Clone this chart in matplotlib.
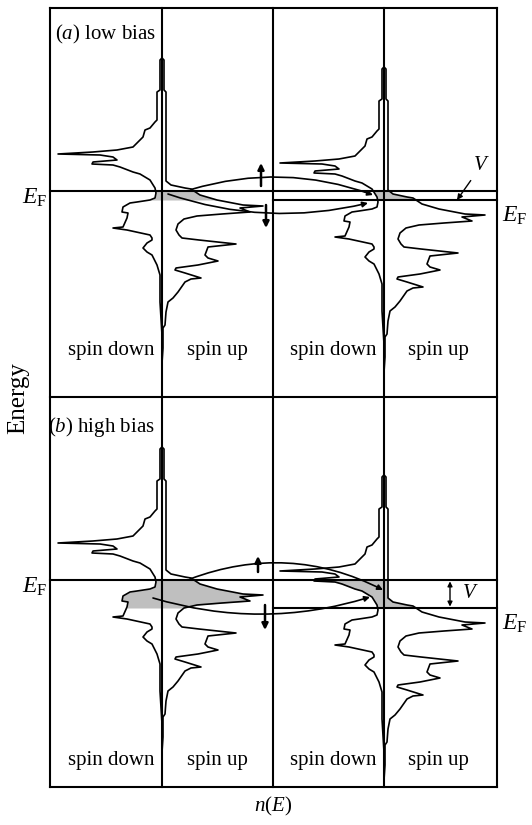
import numpy as np
import matplotlib
matplotlib.use("Agg")
import matplotlib.pyplot as plt
from matplotlib.patches import FancyArrowPatch

plt.rcParams.update({"font.family": "Liberation Serif", "mathtext.fontset": "custom",
                     "mathtext.rm": "Liberation Serif", "mathtext.it": "Liberation Serif:italic"})

# density of states: n = distance from the axis, e = energy above E_F (px)
DOWN_N = [0, 2, 2, 5, 5, 7, 12, 17, 19, 22, 29, 45, 69, 104, 62, 49, 45, 69, 70, 49, 42, 29, 22, 12, 7,
          6, 7, 12, 25, 32, 39, 40, 34, 35, 39, 49, 35, 12, 10, 10, 15, 19, 15, 10, 5, 2, 2, 0, 0]
DOWN_E = [133, 131, 101, 99, 71, 69, 63, 61, 54, 51, 44, 41, 39, 37, 36, 34, 31, 29, 27, 26, 24, 19, 17, 11, 3,
          -2, -7, -9, -11, -12, -16, -21, -22, -27, -36, -37, -39, -44, -47, -49, -52, -57, -61, -64, -74, -84, -111, -144, -172]
UP_N = [0, 2, 2, 4, 4, 9, 23, 29, 38, 55, 81, 101, 78, 88, 60, 35, 22, 16, 14, 17, 20, 37, 74, 46, 43, 46, 56,
        46, 36, 14, 13, 23, 39, 29, 23, 16, 11, 6, 4, 3, 1, 1, 0]
UP_E = [133, 131, 101, 99, 10, 6, 3, 2, -4, -9, -14, -15, -17, -21, -23, -25, -28, -33, -39, -44, -47, -49, -53, -56, -64, -67, -70,
        -72, -74, -77, -79, -82, -87, -88, -91, -101, -107, -111, -121, -134, -137, -157, -172]

PANEL_LABELS = [r"($a$) low bias", r"($b$) high bias"]
SPIN_LABELS = ["spin down", "spin up", "spin down", "spin up"]
EF_LEFT = [191, 580]   # Fermi level of the left electrode, px from top
BIAS = [9, 28]         # V in px

# layout (px)
X_LINES = [50, 162, 273, 384, 497]
Y_LINES = [8, 397, 787]
AXES_X = [162, 384]
LABEL_X = [111, 217, 333, 438]
LABEL_Y = [355, 765]
TITLE_XY = [(55, 39), (48, 432)]
# arcs: (start dx from left axis, start dy, end dx from right axis, end dy, rad), dy from left E_F
ARCS_UP = [(29, -1.5, -11, 4, -0.165), (28, -1, -1, 10, -0.22)]
ARCS_DN = [(6, 3, -16, 12, 0.145), (-9, 18, -14, 17, 0.152)]
SPIN_ARROWS = [((261, -5, -28), (266, 14, 37)), ((258, -8, -24), (265, 25, 50))]

fig = plt.figure(figsize=(5.32, 8.25), dpi=100)
ax = fig.add_axes([0, 0, 1, 1])
ax.set_xlim(0, 532); ax.set_ylim(825, 0); ax.axis("off")

dn_n, dn_e = np.array(DOWN_N), np.array(DOWN_E)
up_n, up_e = np.array(UP_N), np.array(UP_E)

def electrode(xa, yf, lo, hi):
    e = np.linspace(lo, hi, 80)
    nd = np.interp(e, dn_e[::-1], dn_n[::-1])
    nu = np.interp(e, up_e[::-1], up_n[::-1])
    ax.fill_betweenx(yf - e, xa - nd, xa + nu, color="#bfbfbf", lw=0, zorder=1)
    ax.plot(xa - dn_n, yf - dn_e, color="k", lw=1.2, zorder=3)
    ax.plot(xa + up_n, yf - up_e, color="k", lw=1.2, zorder=3)

for x in X_LINES:
    ax.plot([x, x], [Y_LINES[0], Y_LINES[-1]], color="k", lw=1.5, solid_capstyle="projecting", zorder=2)
for y in Y_LINES:
    ax.plot([X_LINES[0], X_LINES[-1]], [y, y], color="k", lw=1.5, solid_capstyle="projecting", zorder=2)

for p in range(2):
    efl, v = EF_LEFT[p], BIAS[p]
    efr = efl + v
    ax.plot([X_LINES[0], X_LINES[-1]], [efl, efl], color="k", lw=1.5, zorder=2)
    ax.plot([X_LINES[2], X_LINES[-1]], [efr, efr], color="k", lw=1.5, zorder=2)
    electrode(AXES_X[0], efl, -v, 0)
    electrode(AXES_X[1], efr, 0, v)

    for (sx, sy, ex, ey, rad) in (ARCS_UP[p], ARCS_DN[p]):
        ax.add_patch(FancyArrowPatch((AXES_X[0] + sx, efl + sy), (AXES_X[1] + ex, efl + ey),
                                     connectionstyle=f"arc3,rad={rad}", arrowstyle="-|>",
                                     mutation_scale=8, lw=1.2, color="k", shrinkA=0, shrinkB=0, zorder=4))
    (ux, u0, u1), (dx, d0, d1) = SPIN_ARROWS[p]
    ax.annotate("", xy=(ux, efl + u1), xytext=(ux, efl + u0),
                arrowprops=dict(arrowstyle="-|>", lw=1.8, mutation_scale=9, color="k", shrinkA=0, shrinkB=0))
    ax.annotate("", xy=(dx, efl + d1), xytext=(dx, efl + d0),
                arrowprops=dict(arrowstyle="-|>", lw=1.8, mutation_scale=9, color="k", shrinkA=0, shrinkB=0))

    ax.text(22, efl + 7, r"$E_{\rm F}$", fontsize=17, ha="left", va="center")
    ax.text(502, efr + 16, r"$E_{\rm F}$", fontsize=17, ha="left", va="center")
    ax.text(*TITLE_XY[p], PANEL_LABELS[p], fontsize=15, ha="left", va="baseline")
    for lx, s in zip(LABEL_X, SPIN_LABELS):
        ax.text(lx, LABEL_Y[p], s, fontsize=15, ha="center", va="baseline")

# bias markers
ax.annotate(r"$V$", xy=(457, EF_LEFT[0] + BIAS[0]), xytext=(481, 166), fontsize=15, ha="center", va="center",
            arrowprops=dict(arrowstyle="-|>", lw=1.0, mutation_scale=8, color="k", shrinkA=2, shrinkB=0))
ax.annotate("", xy=(450, EF_LEFT[1]), xytext=(450, EF_LEFT[1] + BIAS[1]),
            arrowprops=dict(arrowstyle="<|-|>", lw=1.0, mutation_scale=7, color="k", shrinkA=1, shrinkB=1))
ax.text(470, EF_LEFT[1] + BIAS[1] / 2, r"$V$", fontsize=15, ha="center", va="center")

ax.text(18, 398, "Energy", fontsize=18, rotation=90, ha="center", va="center")
ax.text(273, 806, r"$n(E)$", fontsize=15, ha="center", va="center")

fig.savefig("out.png", dpi=100)
